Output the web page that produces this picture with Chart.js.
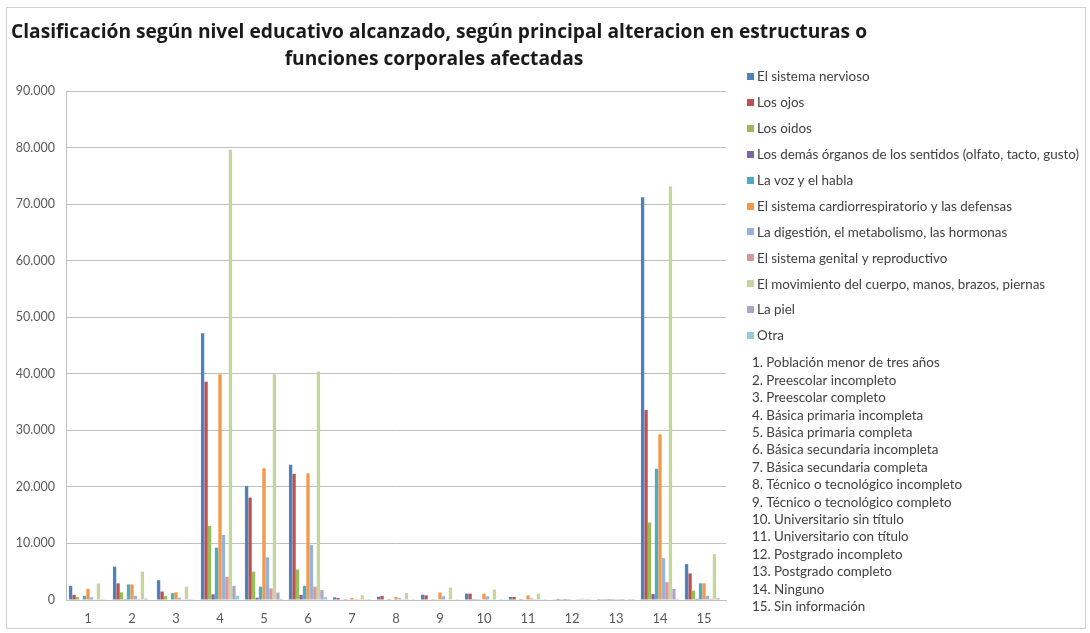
<!DOCTYPE html>
<html>
<head>
<meta charset="utf-8">
<script src="https://cdn.jsdelivr.net/npm/chart.js@4.4.1/dist/chart.umd.min.js"></script>
<style>
  html, body { margin: 0; padding: 0; background: #ffffff; }
  canvas { display: block; }
</style>
</head>
<body>
<canvas id="chart" width="1090" height="633"></canvas>
<script>
const titleLines = [
  "Clasificación según nivel educativo alcanzado, según principal alteracion en estructuras o",
  "funciones corporales afectadas"
];

const categories = ["1", "2", "3", "4", "5", "6", "7", "8", "9", "10", "11", "12", "13", "14", "15"];

const categoryNames = [
  "1. Población menor de tres años",
  "2. Preescolar incompleto",
  "3. Preescolar completo",
  "4. Básica primaria incompleta",
  "5. Básica primaria completa",
  "6. Básica secundaria incompleta",
  "7. Básica secundaria completa",
  "8. Técnico o tecnológico incompleto",
  "9. Técnico o tecnológico completo",
  "10. Universitario sin título",
  "11. Universitario con título",
  "12. Postgrado incompleto",
  "13. Postgrado completo",
  "14. Ninguno",
  "15. Sin información"
];

const seriesNames = [
  "El sistema nervioso",
  "Los ojos",
  "Los oidos",
  "Los demás órganos de los sentidos (olfato, tacto, gusto)",
  "La voz y el habla",
  "El sistema cardiorrespiratorio y las defensas",
  "La digestión, el metabolismo, las hormonas",
  "El sistema genital y reproductivo",
  "El movimiento del cuerpo, manos, brazos, piernas",
  "La piel",
  "Otra"
];

const seriesColors = [
  "#4F81BD", "#C0504D", "#9BBB59", "#8064A2", "#4BACC6", "#F79646",
  "#95B3D7", "#D99694", "#C3D69B", "#B3A2C7", "#93CDDD"
];

// values per series, one per education level (1..15)
const nervioso   = [2500, 5900, 3500, 47150, 20150, 23900, 470, 590, 940, 1120, 530, 60, 20, 71200, 6350];
const ojos       = [900, 2950, 1500, 38600, 18100, 22300, 350, 700, 830, 1120, 530, 180, 40, 33600, 4700];
const oidos      = [500, 1350, 700, 13100, 5000, 5400, 80, 80, 100, 180, 60, 20, 10, 13700, 1650];
const demas      = [100, 150, 100, 1000, 400, 900, 30, 30, 40, 40, 20, 10, 5, 1050, 200];
const voz        = [750, 2750, 1200, 9250, 2350, 2500, 60, 80, 120, 120, 60, 20, 10, 23200, 2950];
const cardio     = [2000, 2750, 1350, 39900, 23300, 22400, 350, 530, 1300, 1120, 830, 100, 30, 29300, 2950];
const digestion  = [500, 750, 400, 11500, 7550, 9700, 150, 300, 650, 650, 300, 60, 20, 7400, 750];
const genital    = [100, 150, 100, 4100, 2050, 2350, 50, 50, 80, 80, 40, 20, 5, 3150, 200];
const movimiento = [2900, 5000, 2350, 79600, 39900, 40400, 830, 1240, 2180, 1830, 1120, 240, 60, 73100, 8100];
const piel       = [150, 250, 150, 2500, 1300, 1750, 60, 60, 100, 100, 60, 20, 10, 1950, 300];
const otra       = [50, 100, 50, 750, 200, 500, 20, 20, 30, 30, 20, 10, 5, 200, 100];

const seriesValues = [nervioso, ojos, oidos, demas, voz, cardio, digestion, genital, movimiento, piel, otra];

const yMax = 90000;
const yStep = 10000;

function fmt(v) {
  return String(v).replace(/\B(?=(\d{3})+(?!\d))/g, ".");
}

const textColor = "#404040";
const gridColor = "#c0c0c0";

const frameAndText = {
  id: "frameAndText",
  beforeDraw(chart) {
    const ctx = chart.ctx;
    ctx.save();
    ctx.strokeStyle = "#d0d0d0";
    ctx.lineWidth = 1;
    ctx.strokeRect(6.5, 7.5, 1079, 621);
    ctx.restore();
  },
  afterDraw(chart) {
    const ctx = chart.ctx;
    ctx.save();
    // title
    ctx.fillStyle = "#1a1a1a";
    ctx.font = "bold 19.2px 'Open Sans'";
    ctx.textAlign = "center";
    ctx.textBaseline = "middle";
    ctx.fillText(titleLines[0], 439, 33);
    ctx.fillText(titleLines[1], 434, 60);

    // series legend
    ctx.textAlign = "left";
    ctx.font = "13.4px Lato";
    chart.data.datasets.forEach((ds, i) => {
      const y = 77 + i * 25.9;
      ctx.fillStyle = ds.backgroundColor;
      ctx.fillRect(747, Math.round(y - 4), 7, 7);
      ctx.fillStyle = textColor;
      ctx.fillText(ds.label, 757, y);
    });

    // category key
    categoryNames.forEach((name, i) => {
      ctx.fillStyle = textColor;
      ctx.fillText(name, 752, 363 + i * 17.4);
    });
    ctx.restore();
  }
};

new Chart(document.getElementById("chart"), {
  type: "bar",
  data: {
    labels: categories,
    datasets: seriesNames.map((name, i) => ({
      label: name,
      data: seriesValues[i],
      backgroundColor: seriesColors[i],
      borderWidth: 0,
      barPercentage: 0.95,
      categoryPercentage: 0.87
    }))
  },
  options: {
    responsive: false,
    animation: false,
    devicePixelRatio: 1,
    layout: {
      padding: { top: 91, right: 364, left: 0, bottom: 0 }
    },
    plugins: {
      legend: { display: false },
      title: { display: false },
      tooltip: { enabled: false }
    },
    scales: {
      x: {
        grid: { display: false, drawTicks: false },
        border: { display: true, color: gridColor },
        ticks: {
          color: "#595959",
          font: { family: "Lato", size: 13 },
          padding: 11
        },
        afterFit: (scale) => { scale.height = 33; }
      },
      y: {
        min: 0,
        max: yMax,
        grid: { color: gridColor, drawTicks: false },
        border: { display: true, color: gridColor },
        ticks: {
          stepSize: yStep,
          color: "#595959",
          font: { family: "Lato", size: 12.5 },
          padding: 11,
          callback: (v) => fmt(v)
        },
        afterFit: (scale) => { scale.width = 66; }
      }
    }
  },
  plugins: [frameAndText]
});
</script>
</body>
</html>
